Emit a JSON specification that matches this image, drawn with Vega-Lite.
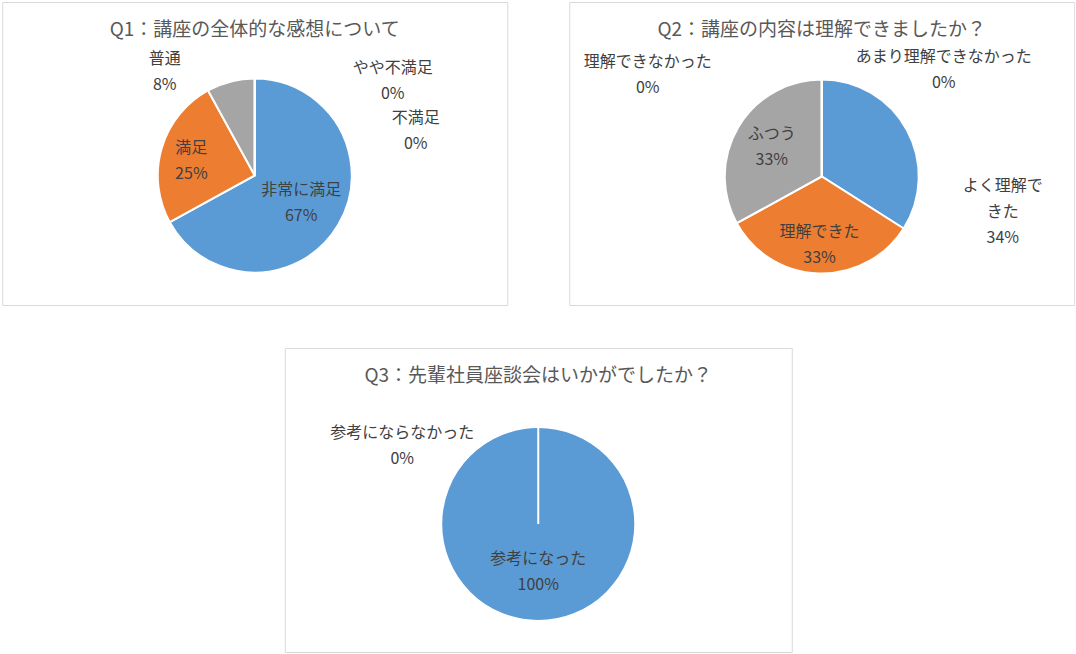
{
  "$schema": "https://vega.github.io/schema/vega-lite/v6.json",
  "background": "white",
  "padding": {"left": 1, "top": 1, "right": 0, "bottom": 0},
  "spacing": 41,
  "center": true,
  "resolve": {"scale": {"color": "independent", "theta": "independent"}, "legend": {"color": "independent"}},
  "vconcat": [
    {
      "spacing": 60,
      "resolve": {"scale": {"color": "independent", "theta": "independent"}, "legend": {"color": "independent"}},
      "hconcat": [
        {
          "width": 505,
          "height": 303,
          "view": {"stroke": "#D9D9D9", "strokeWidth": 1},
          "title": {"text": "Q1：講座の全体的な感想について"},
          "data": {
            "values": [
              {"k": "非常に満足", "v": 67, "i": 1, "lab": "非常に満足\n67%"},
              {"k": "満足", "v": 25, "i": 2, "lab": "満足\n25%"},
              {"k": "普通", "v": 8, "i": 3, "lab": "普通\n8%"},
              {"k": "やや不満足", "v": 0, "i": 4, "lab": "やや不満足\n0%"},
              {"k": "不満足", "v": 0, "i": 5, "lab": "不満足\n0%"}
            ]
          },
          "layer": [
            {
              "mark": {"type": "arc", "outerRadius": 97, "stroke": "white", "strokeWidth": 2, "yOffset": 22},
              "encoding": {
                "theta": {"field": "v", "type": "quantitative", "stack": true},
                "order": {"field": "i", "type": "quantitative"},
                "color": {
                  "field": "k",
                  "type": "nominal",
                  "legend": null,
                  "scale": {
                    "domain": ["非常に満足", "満足", "普通", "やや不満足", "不満足"],
                    "range": ["#5B9BD5", "#ED7D31", "#A5A5A5", "#FFC000", "#4472C4"]
                  }
                }
              }
            },
            {
              "mark": {"type": "text", "radius": 54, "yOffset": 22, "dy": -13},
              "encoding": {
                "theta": {"field": "v", "type": "quantitative", "stack": true},
                "order": {"field": "i", "type": "quantitative"},
                "text": {"condition": {"test": "datum.k == '非常に満足'", "field": "lab", "type": "nominal"}, "value": ""}
              }
            },
            {
              "mark": {"type": "text", "radius": 66, "yOffset": 22, "dy": -9},
              "encoding": {
                "theta": {"field": "v", "type": "quantitative", "stack": true},
                "order": {"field": "i", "type": "quantitative"},
                "text": {"condition": {"test": "datum.k == '満足'", "field": "lab", "type": "nominal"}, "value": ""}
              }
            },
            {
              "transform": [{"filter": "datum.k == '普通'"}],
              "mark": {"type": "text", "yOffset": 22, "dx": -90, "dy": -117},
              "encoding": {"text": {"field": "lab", "type": "nominal"}}
            },
            {
              "transform": [{"filter": "datum.k == 'やや不満足'"}],
              "mark": {"type": "text", "yOffset": 22, "dx": 138, "dy": -108},
              "encoding": {"text": {"field": "lab", "type": "nominal"}}
            },
            {
              "transform": [{"filter": "datum.k == '不満足'"}],
              "mark": {"type": "text", "yOffset": 22, "dx": 161, "dy": -58},
              "encoding": {"text": {"field": "lab", "type": "nominal"}}
            }
          ]
        },
        {
          "width": 505,
          "height": 303,
          "view": {"stroke": "#D9D9D9", "strokeWidth": 1},
          "title": {"text": "Q2：講座の内容は理解できましたか？"},
          "data": {
            "values": [
              {"k": "よく理解できた", "v": 34, "i": 1, "lab": "よく理解で\nきた\n34%"},
              {"k": "理解できた", "v": 33, "i": 2, "lab": "理解できた\n33%"},
              {"k": "ふつう", "v": 33, "i": 3, "lab": "ふつう\n33%"},
              {"k": "あまり理解できなかった", "v": 0, "i": 4, "lab": "あまり理解できなかった\n0%"},
              {"k": "理解できなかった", "v": 0, "i": 5, "lab": "理解できなかった\n0%"}
            ]
          },
          "layer": [
            {
              "mark": {"type": "arc", "outerRadius": 97, "stroke": "white", "strokeWidth": 2, "yOffset": 23},
              "encoding": {
                "theta": {"field": "v", "type": "quantitative", "stack": true},
                "order": {"field": "i", "type": "quantitative"},
                "color": {
                  "field": "k",
                  "type": "nominal",
                  "legend": null,
                  "scale": {
                    "domain": ["よく理解できた", "理解できた", "ふつう", "あまり理解できなかった", "理解できなかった"],
                    "range": ["#5B9BD5", "#ED7D31", "#A5A5A5", "#FFC000", "#4472C4"]
                  }
                }
              }
            },
            {
              "mark": {"type": "text", "radius": 69, "yOffset": 23, "dy": -13},
              "encoding": {
                "theta": {"field": "v", "type": "quantitative", "stack": true},
                "order": {"field": "i", "type": "quantitative"},
                "text": {"condition": {"test": "datum.k == '理解できた'", "field": "lab", "type": "nominal"}, "value": ""}
              }
            },
            {
              "mark": {"type": "text", "radius": 58, "yOffset": 23, "dy": -13},
              "encoding": {
                "theta": {"field": "v", "type": "quantitative", "stack": true},
                "order": {"field": "i", "type": "quantitative"},
                "text": {"condition": {"test": "datum.k == 'ふつう'", "field": "lab", "type": "nominal"}, "value": ""}
              }
            },
            {
              "transform": [{"filter": "datum.k == 'よく理解できた'"}],
              "mark": {"type": "text", "yOffset": 23, "dx": 181, "dy": 9},
              "encoding": {"text": {"field": "lab", "type": "nominal"}}
            },
            {
              "transform": [{"filter": "datum.k == 'あまり理解できなかった'"}],
              "mark": {"type": "text", "yOffset": 23, "dx": 122, "dy": -120},
              "encoding": {"text": {"field": "lab", "type": "nominal"}}
            },
            {
              "transform": [{"filter": "datum.k == '理解できなかった'"}],
              "mark": {"type": "text", "yOffset": 23, "dx": -174, "dy": -115},
              "encoding": {"text": {"field": "lab", "type": "nominal"}}
            }
          ]
        }
      ]
    },
    {
      "width": 507,
      "height": 304,
      "view": {"stroke": "#D9D9D9", "strokeWidth": 1},
      "title": {"text": "Q3：先輩社員座談会はいかがでしたか？"},
      "data": {
        "values": [
          {"k": "参考になった", "v": 100, "i": 1, "lab": "参考になった\n100%"},
          {"k": "参考にならなかった", "v": 0, "i": 2, "lab": "参考にならなかった\n0%"}
        ]
      },
      "layer": [
        {
          "mark": {"type": "arc", "outerRadius": 97, "stroke": "white", "strokeWidth": 2, "yOffset": 24},
          "encoding": {
            "theta": {"field": "v", "type": "quantitative", "stack": true},
            "order": {"field": "i", "type": "quantitative"},
            "color": {
              "field": "k",
              "type": "nominal",
              "legend": null,
              "scale": {"domain": ["参考になった", "参考にならなかった"], "range": ["#5B9BD5", "#ED7D31"]}
            }
          }
        },
        {
          "mark": {"type": "text", "radius": 48, "yOffset": 24, "dy": -13},
          "encoding": {
            "theta": {"field": "v", "type": "quantitative", "stack": true},
            "order": {"field": "i", "type": "quantitative"},
            "text": {"condition": {"test": "datum.k == '参考になった'", "field": "lab", "type": "nominal"}, "value": ""}
          }
        },
        {
          "transform": [{"filter": "datum.k == '参考にならなかった'"}],
          "mark": {"type": "text", "yOffset": 24, "dx": -136, "dy": -91},
          "encoding": {"text": {"field": "lab", "type": "nominal"}}
        }
      ]
    }
  ],
  "config": {
    "view": {"stroke": "#D9D9D9", "strokeWidth": 1},
    "title": {
      "font": "Noto Sans CJK JP",
      "fontSize": 19,
      "fontWeight": "normal",
      "color": "#595959",
      "anchor": "middle",
      "offset": -38
    },
    "text": {
      "font": "Noto Sans CJK JP",
      "fontSize": 16,
      "color": "#404040",
      "lineHeight": 26,
      "lineBreak": "\n",
      "align": "center",
      "baseline": "middle"
    }
  }
}
